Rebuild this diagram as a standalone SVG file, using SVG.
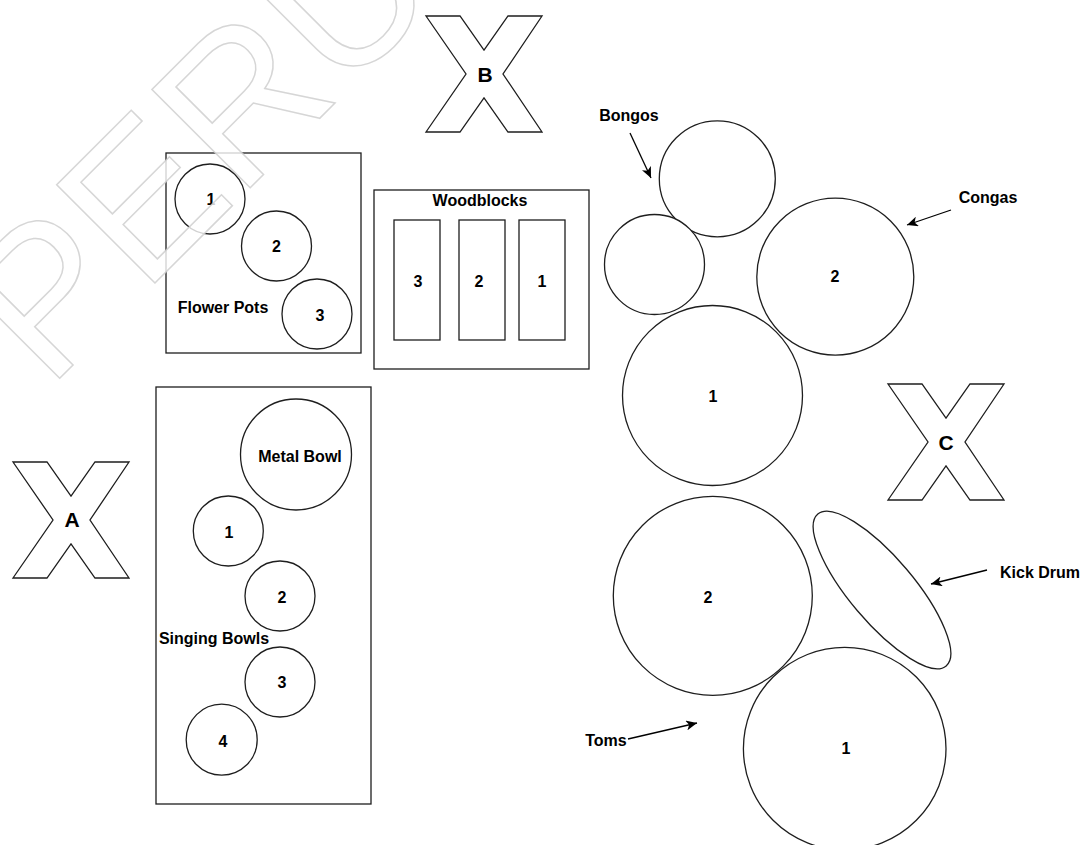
<svg xmlns="http://www.w3.org/2000/svg" width="1083" height="845" viewBox="0 0 1083 845">
<style>
.s{fill:#fff;stroke:#1e1e1e;stroke-width:1.3}
.t{font-family:"Liberation Sans",Arial,sans-serif;font-weight:bold;font-size:16px;fill:#000;text-anchor:middle}
.big{font-size:21px}
.c{stroke:#000;stroke-width:1.3;fill:none;marker-end:url(#ah)}
.wm{font-family:"Liberation Sans",Arial,sans-serif;font-size:202px;fill:#fff;fill-opacity:0.8;stroke:#cccccc;stroke-width:1.5;stroke-opacity:0.8}
</style>
<defs>
<marker id="ah" markerUnits="userSpaceOnUse" markerWidth="12" markerHeight="10" viewBox="0 0 12 10" refX="11" refY="5" orient="auto">
<path d="M0,0 L11,5 L0,10 L3,5 Z" fill="#000"/>
</marker>
<path id="xshape" d="M-58,-58 L-24,-58 L0,-24 L24,-58 L58,-58 L19,0 L58,58 L24,58 L0,24 L-24,58 L-58,58 L-18,0 Z"/>
</defs>
<rect width="1083" height="845" fill="#fff"/>

<g id="markA">
<use href="#xshape" class="s" transform="translate(71,520)"/>
<text class="t big" x="72" y="527">A</text>
</g>
<g id="markB">
<use href="#xshape" class="s" transform="translate(484,74)"/>
<text class="t big" x="485" y="82">B</text>
</g>
<g id="markC">
<use href="#xshape" class="s" transform="translate(946,442)"/>
<text class="t big" x="946" y="450">C</text>
</g>

<g id="flower-pots">
<rect class="s" x="166" y="153" width="195" height="200"/>
<circle class="s" cx="210" cy="199" r="35"/>
<text class="t" x="211" y="205">1</text>
<circle class="s" cx="276.5" cy="246" r="35"/>
<text class="t" x="276.5" y="252">2</text>
<circle class="s" cx="317" cy="314" r="35"/>
<text class="t" x="320" y="321">3</text>
<text class="t" x="223" y="313">Flower Pots</text>
</g>

<g id="woodblocks">
<rect class="s" x="374" y="190" width="215" height="179"/>
<text class="t" x="480" y="206">Woodblocks</text>
<rect class="s" x="394" y="220" width="46" height="120"/>
<text class="t" x="418" y="287">3</text>
<rect class="s" x="459" y="220" width="46" height="120"/>
<text class="t" x="479" y="287">2</text>
<rect class="s" x="519" y="220" width="46" height="120"/>
<text class="t" x="542" y="287">1</text>
</g>

<g id="singing-bowls">
<rect class="s" x="156" y="387" width="215" height="417"/>
<circle class="s" cx="296" cy="454.5" r="55.5"/>
<text class="t" x="300" y="462">Metal Bowl</text>
<circle class="s" cx="228.3" cy="531" r="35"/>
<text class="t" x="229" y="538">1</text>
<circle class="s" cx="280" cy="596" r="35"/>
<text class="t" x="282" y="603">2</text>
<circle class="s" cx="280" cy="682" r="35"/>
<text class="t" x="282" y="688">3</text>
<circle class="s" cx="221.7" cy="739.7" r="35.5"/>
<text class="t" x="223" y="747">4</text>
<text class="t" x="214" y="644">Singing Bowls</text>
</g>

<g id="bongos">
<circle class="s" cx="717.3" cy="178.8" r="58"/>
<circle class="s" cx="654.5" cy="264.5" r="50"/>
<text class="t" x="629" y="121">Bongos</text>
</g>

<g id="congas">
<circle class="s" cx="835.3" cy="276.7" r="78.5"/>
<text class="t" x="835" y="282">2</text>
<circle class="s" cx="712.5" cy="395.5" r="90"/>
<text class="t" x="713" y="402">1</text>
<text class="t" x="988" y="203">Congas</text>
</g>

<g id="toms">
<circle class="s" cx="712.8" cy="595.8" r="99.5"/>
<text class="t" x="708" y="603">2</text>
<circle class="s" cx="844.7" cy="748.7" r="101.3"/>
<text class="t" x="846" y="754">1</text>
<text class="t" x="606" y="746">Toms</text>
</g>

<g id="kick-drum">
<ellipse class="s" cx="882" cy="590" rx="99.4" ry="32.2" transform="rotate(49.8 882 590)"/>
<text class="t" x="1040" y="578">Kick Drum</text>
</g>

<g id="connectors">
<line class="c" x1="630" y1="133" x2="651" y2="178"/>
<line class="c" x1="951" y1="210" x2="907" y2="225"/>
<line class="c" x1="987" y1="570" x2="931" y2="584"/>
<line class="c" x1="628" y1="739" x2="697" y2="723"/>
</g>

<g id="watermark">
<text class="wm" x="48" y="390" transform="rotate(-45 48 390)">PERU</text>
</g>
</svg>
